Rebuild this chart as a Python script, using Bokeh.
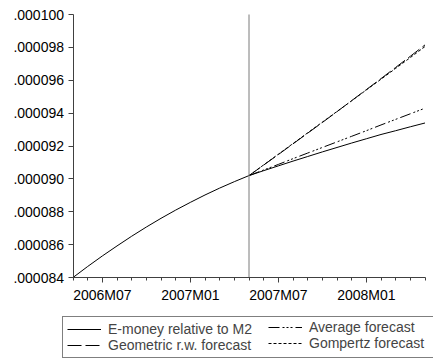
from bokeh.plotting import figure
from bokeh.models import FixedTicker, Legend, LegendItem
from bokeh.embed import file_html
from bokeh.resources import INLINE

# x positions: month index, 0 = 2006M05 ... 24 = 2008M05
months = list(range(25))
# values in units of 1e-6
actual = [84.00, 84.67, 85.31, 85.92, 86.51, 87.07, 87.60, 88.10, 88.57, 89.02,
          89.44, 89.83, 90.20, 90.50, 90.79, 91.08, 91.36, 91.64, 91.91, 92.18,
          92.44, 92.70, 92.93, 93.17, 93.40]
fc_months = list(range(12, 25))
geometric = [90.20, 90.84, 91.48, 92.13, 92.78, 93.43, 94.09, 94.76, 95.43, 96.10,
             96.78, 97.46, 98.15]
average = [90.20, 90.54, 90.88, 91.23, 91.57, 91.91, 92.25, 92.59, 92.93, 93.28,
           93.62, 93.96, 94.30]
gompertz = [90.20, 90.85, 91.50, 92.15, 92.80, 93.45, 94.10, 94.75, 95.41, 96.06,
            96.72, 97.38, 98.05]
forecast_start = 12

y_ticks = [84, 86, 88, 90, 92, 94, 96, 98, 100]
y_tick_labels = [".000084", ".000086", ".000088", ".000090", ".000092",
                 ".000094", ".000096", ".000098", ".000100"]
x_ticks = [2, 8, 14, 20]
x_tick_labels = ["2006M07", "2007M01", "2007M07", "2008M01"]

FONT = "Liberation Sans"
W, H = 433, 360

# layout: where the data box sits on the canvas (pixels)
X0_PX, X1_PX = 72.5, 424.5        # x = 0 .. 24
Y_TOP_PX, Y_BOT_PX = 14.0, 277.0  # y = 100 .. 84
xmin, xmax = months[0], months[-1]
ymin, ymax = y_ticks[0], y_ticks[-1]
ppx = (X1_PX - X0_PX) / (xmax - xmin)
ppy = (Y_BOT_PX - Y_TOP_PX) / (ymax - ymin)
x_range = (xmin - X0_PX / ppx, xmax + (W - X1_PX) / ppx)
y_range = (ymin - (H - Y_BOT_PX) / ppy, ymax + Y_TOP_PX / ppy)

p = figure(width=W, height=H, x_range=x_range, y_range=y_range,
           output_backend="svg", toolbar_location=None,
           min_border_left=0, min_border_right=0, min_border_top=0,
           min_border_bottom=0)
p.xgrid.visible = False
p.ygrid.visible = False
p.outline_line_color = None
p.background_fill_color = "white"
p.border_fill_color = "white"

r_act = p.line(months, actual, line_color="black", line_width=1)
r_geo = p.line(fc_months, geometric, line_color="black", line_width=1, line_dash="14 4")
r_avg = p.line(fc_months, average, line_color="black", line_width=1,
               line_dash="11 3 2 2 2 2 2 3")
r_gom = p.line(fc_months, gompertz, line_color="black", line_width=1, line_dash="3 2")

# vertical line marking the start of the forecast period
p.segment(x0=[forecast_start], y0=[ymin], x1=[forecast_start], y1=[ymax],
          line_color="#7a7a7a", line_width=1)

for ax in (p.xaxis[0], p.yaxis[0]):
    ax.axis_line_color = "#404040"
    ax.major_tick_line_color = "#404040"
    ax.minor_tick_line_color = "#404040"
    ax.major_tick_in = 0
    ax.minor_tick_in = 0
    ax.major_label_text_font = FONT
    ax.major_label_text_font_size = "14px"
    ax.major_label_text_color = "black"

p.xaxis.ticker = FixedTicker(ticks=x_ticks, minor_ticks=months)
p.xaxis.major_label_overrides = dict(zip(x_ticks, x_tick_labels))
p.xaxis.major_tick_out = 5
p.xaxis.minor_tick_out = 3
p.xaxis.major_label_standoff = 4
p.xaxis.fixed_location = ymin
p.xaxis.bounds = (xmin, xmax)

p.yaxis.ticker = FixedTicker(ticks=y_ticks, minor_ticks=[])
p.yaxis.major_label_overrides = dict(zip(y_ticks, y_tick_labels))
p.yaxis.major_tick_out = 5
p.yaxis.minor_tick_out = 0
p.yaxis.major_label_standoff = 4
p.yaxis.fixed_location = xmin
p.yaxis.bounds = (ymin, ymax)


def style_legend(lg):
    lg.label_text_font = FONT
    lg.label_text_font_size = "14px"
    lg.glyph_width = 34
    lg.glyph_height = 16
    lg.label_height = 16
    lg.label_standoff = 7
    lg.spacing = 0
    lg.padding = 4
    lg.margin = 0
    lg.background_fill_alpha = 0


# left legend column (carries the frame around the whole legend)
legend_a = Legend(items=[
    LegendItem(label="E-money relative to M2", renderers=[r_act]),
    LegendItem(label="Geometric r.w. forecast", renderers=[r_geo]),
], location=(62, 2))
style_legend(legend_a)
legend_a.label_width = 321
legend_a.border_line_color = "black"
legend_a.border_line_width = 1

# right legend column
legend_b = Legend(items=[
    LegendItem(label="Average forecast", renderers=[r_avg]),
    LegendItem(label="Gompertz forecast", renderers=[r_gom]),
], location=(268, 9))
style_legend(legend_b)
legend_b.border_line_color = None

p.add_layout(legend_a, "center")
p.add_layout(legend_b, "center")

open("out.html", "w").write(file_html(p, INLINE))
